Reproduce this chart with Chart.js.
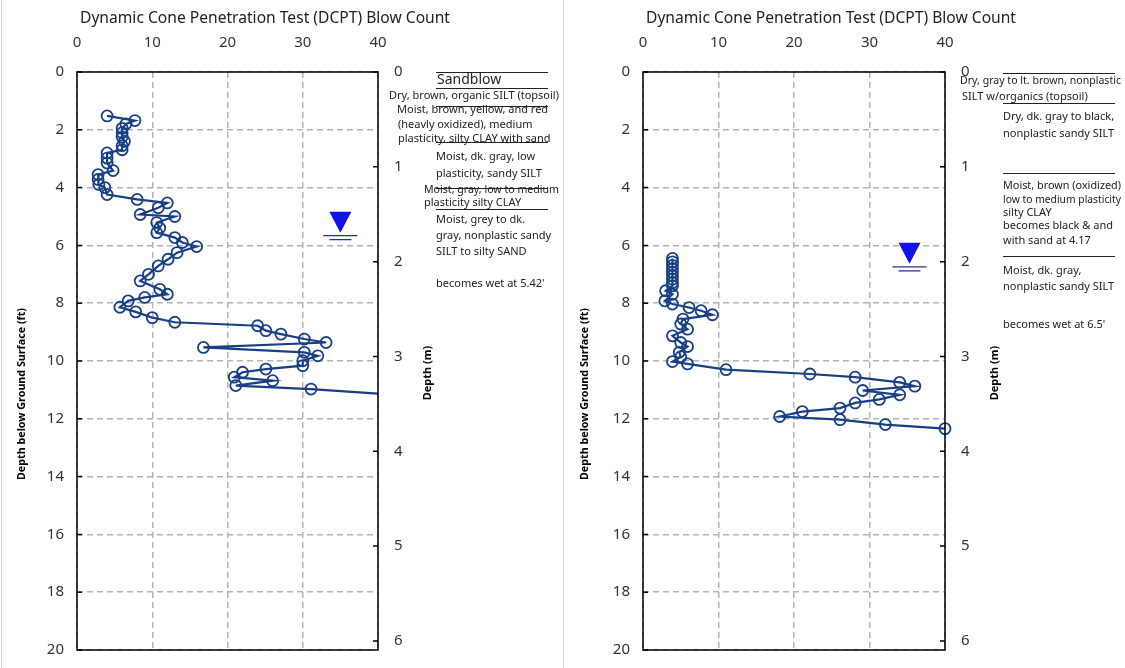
<!DOCTYPE html>
<html>
<head>
<meta charset="utf-8">
<script src="https://cdn.jsdelivr.net/npm/chart.js@4.4.1/dist/chart.umd.min.js"></script>
<style>
html, body { margin: 0; background: #fff; overflow: hidden; width: 1125px; height: 668px; }
canvas { position: absolute; top: 0; }
#c1 { left: 0; }
#c2 { left: 563px; }
.sep { position: absolute; top: 0; width: 1px; height: 668px; background: #d4d4d4; }
</style>
</head>
<body>
<div class="sep" style="left:1px"></div>
<canvas id="c1" width="563" height="675"></canvas>
<div class="sep" style="left:563px"></div>
<canvas id="c2" width="562" height="675"></canvas>
<script>
// depth below ground surface (ft) and DCPT blow counts
const leftDepth = [1.52, 1.68, 1.8, 1.95, 2.1, 2.25, 2.4, 2.55, 2.69, 2.8, 2.98, 3.15, 3.41, 3.55, 3.72,
    3.89, 4.0, 4.24, 4.41, 4.53, 4.7, 4.93, 5.0, 5.21, 5.4, 5.56, 5.73, 5.9, 6.04, 6.25,
    6.48, 6.71, 7.0, 7.23, 7.52, 7.69, 7.8, 7.92, 8.14, 8.3, 8.5, 8.66, 8.78, 8.95, 9.07,
    9.24, 9.36, 9.53, 9.7, 9.82, 9.99, 10.16, 10.28, 10.39, 10.56, 10.68, 10.85, 10.97, 11.2];
const leftBlows = [4, 7.7, 6.5, 6, 6, 6, 6.3, 6, 6, 4, 4, 4, 4.8, 2.8, 2.8,
    2.9, 3.7, 4, 8, 12, 10.8, 8.4, 13, 10.6, 11, 10.6, 13, 14, 15.9, 13.3,
    12.1, 10.8, 9.5, 8.4, 11, 12, 9, 6.8, 5.7, 7.8, 10, 13, 24, 25.1, 27.1,
    30.2, 33.1, 16.8, 30.2, 32, 30, 30, 25.1, 22, 20.9, 26, 21.1, 31.1, 44];

const rightDepth = [6.45, 6.57, 6.69, 6.81, 6.93, 7.05, 7.17, 7.29, 7.4, 7.57, 7.69, 7.92, 8.03,
    8.15, 8.26, 8.4, 8.55, 8.72, 8.9, 9.13, 9.36, 9.5, 9.7, 9.85, 10.02, 10.1, 10.3, 10.45,
    10.56, 10.74, 10.87, 11.02, 11.17, 11.33, 11.45, 11.63, 11.75, 11.92, 12.03, 12.2, 12.34];
const rightBlows = [3.9, 3.9, 3.9, 3.9, 3.9, 3.9, 3.9, 3.9, 3.9, 3.0, 3.9, 2.9, 3.9,
    6.1, 7.7, 9.2, 5.3, 5.0, 5.9, 3.9, 5.0, 5.9, 4.8, 5.0, 3.9, 5.9, 11, 22.1,
    28.1, 34, 36, 29.1, 34, 31.3, 28.1, 26.1, 21.1, 18.1, 26.1, 32.1, 40];

const blowMax = 40;
const depthMaxFt = 20;
const ftToM = 0.3048;
const meterTicks = [0, 1, 2, 3, 4, 5, 6];
const waterDepth = [5.42, 6.5];   // ft
const waterBlow = [35, 35.3];     // where the marker sits across

const chartTitle = 'Dynamic Cone Penetration Test (DCPT) Blow Count';
const leftAxisTitle = 'Depth below Ground Surface (ft)';
const rightAxisTitle = 'Depth (m)';

// soil log text, [text, depth ft]
const leftLog = [
    ['Sandblow', 0.28],
    ['Dry, brown, organic SILT (topsoil)', 0.83],
    ['Moist, brown, yellow, and red', 1.31],
    ['(heavly oxidized), medium', 1.83],
    ['plasticity, silty CLAY with sand', 2.32],
    ['Moist, dk. gray, low', 2.94],
    ['plasticity, sandy SILT', 3.53],
    ['Moist, gray, low to medium', 4.08],
    ['plasticity silty CLAY', 4.53],
    ['Moist, grey to dk.', 5.12],
    ['gray, nonplastic sandy', 5.67],
    ['SILT to silty SAND', 6.23],
    ["becomes wet at 5.42'", 7.34]
];
const leftLogX = [59, 11, 19, 20, 20, 58, 58, 46, 46, 58, 58, 58, 58];
const leftBreaks = [0, 0.55, 1.18, 2.42, 4.01, 4.74];

const rightLog = [
    ['Dry, gray to lt. brown, nonplastic', 0.31],
    ['SILT w/organics (topsoil)', 0.86],
    ['Dry, dk. gray to black,', 1.56],
    ['nonplastic sandy SILT', 2.15],
    ['Moist, brown (oxidized)', 3.94],
    ['low to medium plasticity', 4.43],
    ['silty CLAY', 4.88],
    ['becomes black & and', 5.33],
    ['with sand at 4.17', 5.85],
    ['Moist, dk. gray,', 6.89],
    ['nonplastic sandy SILT', 7.44],
    ["becomes wet at 6.5'", 8.75]
];
const rightLogX = [15, 17, 58, 58, 58, 58, 58, 58, 58, 58, 58, 58];
const rightBreaks = [0.03, 1.07, 3.49, 6.37];

const navy = '#183f86';
const fontFam = '"Noto Sans", "Open Sans", sans-serif';

const logPlugin = {
    id: 'logPlugin',
    afterDatasetsDraw(chart, args, o) {
        const {ctx, chartArea: a, scales} = chart;
        const y = scales.y, m = scales.m, x = scales.x;
        ctx.save();

        // frame and inward ticks
        ctx.strokeStyle = '#000';
        ctx.lineWidth = 1.5;
        ctx.strokeRect(a.left, a.top, a.right - a.left, a.bottom - a.top);
        ctx.beginPath();
        y.ticks.forEach(t => {
            const py = y.getPixelForValue(t.value);
            ctx.moveTo(a.left, py);
            ctx.lineTo(a.left + 5, py);
        });
        m.ticks.forEach(t => {
            const py = m.getPixelForValue(t.value);
            ctx.moveTo(a.right, py);
            ctx.lineTo(a.right - 5, py);
        });
        ctx.stroke();

        // water table marker
        const wx = x.getPixelForValue(o.waterBlow);
        const wy = y.getPixelForValue(o.water) + 4;
        ctx.fillStyle = '#1212e8';
        ctx.beginPath();
        ctx.moveTo(wx, wy);
        ctx.lineTo(wx - 11, wy - 21);
        ctx.lineTo(wx + 11, wy - 21);
        ctx.closePath();
        ctx.fill();
        ctx.strokeStyle = '#22308f';
        ctx.lineWidth = 1.2;
        ctx.beginPath();
        ctx.moveTo(wx - 17, wy + 3);
        ctx.lineTo(wx + 17, wy + 3);
        ctx.moveTo(wx - 11, wy + 7);
        ctx.lineTo(wx + 11, wy + 7);
        ctx.stroke();

        // title
        ctx.fillStyle = '#222';
        ctx.font = '16px ' + fontFam;
        ctx.textBaseline = 'middle';
        ctx.textAlign = 'left';
        ctx.fillText(chartTitle, a.left + 3, 18, 370);

        // axis titles
        ctx.fillStyle = '#000';
        ctx.font = 'bold 11px ' + fontFam;
        ctx.textAlign = 'center';
        ctx.save();
        ctx.translate(22, 394);
        ctx.rotate(-Math.PI / 2);
        ctx.fillText(leftAxisTitle, 0, 0, 172);
        ctx.restore();
        ctx.save();
        ctx.translate(a.right + 50, 373);
        ctx.rotate(-Math.PI / 2);
        ctx.fillText(rightAxisTitle, 0, 0);
        ctx.restore();

        // soil log
        ctx.fillStyle = '#222';
        ctx.textAlign = 'left';
        o.log.forEach((row, i) => {
            const lx = a.right + o.logX[i];
            ctx.font = (i === 0 && o.heading ? '14px ' : '11px ') + fontFam;
            ctx.fillText(row[0], lx, y.getPixelForValue(row[1]), chart.width - lx - 4);
        });
        ctx.strokeStyle = '#222';
        ctx.lineWidth = 1;
        ctx.beginPath();
        o.breaks.forEach(d => {
            const py = Math.round(y.getPixelForValue(d)) + 0.5;
            ctx.moveTo(a.right + 58, py);
            ctx.lineTo(a.right + 170, py);
        });
        ctx.stroke();
        ctx.restore();
    }
};

function makeChart(id, blows, depth, opts) {
    const points = depth.map((d, i) => ({x: blows[i], y: d}));
    const tickFont = {family: fontFam, size: 15};
    const mMax = depthMaxFt * ftToM;
    return new Chart(document.getElementById(id), {
        type: 'scatter',
        data: {
            datasets: [{
                data: points,
                showLine: true,
                borderColor: navy,
                borderWidth: 2.2,
                pointRadius: 5.5,
                pointBorderWidth: 1.8,
                pointBackgroundColor: 'rgba(0,0,0,0)',
                pointBorderColor: navy,
                clip: opts.clip
            }]
        },
        options: {
            responsive: false,
            animation: false,
            devicePixelRatio: 1,
            layout: {autoPadding: false, padding: {top: 0, bottom: 18, left: 0, right: 0}},
            plugins: {
                legend: {display: false},
                tooltip: {enabled: false},
                logPlugin: opts
            },
            scales: {
                x: {
                    type: 'linear',
                    position: 'top',
                    min: 0,
                    max: blowMax,
                    ticks: {stepSize: 10, color: '#333', font: tickFont, padding: 20},
                    grid: {color: '#b4b4b4', lineWidth: 1.5, drawTicks: false},
                    border: {display: false, dash: [6, 4]},
                    afterFit: s => { s.height = 72; }
                },
                y: {
                    type: 'linear',
                    position: 'left',
                    reverse: true,
                    min: 0,
                    max: depthMaxFt,
                    ticks: {stepSize: 2, color: '#333', font: tickFont, padding: 13},
                    grid: {color: '#b4b4b4', lineWidth: 1.5, drawTicks: false},
                    border: {display: false, dash: [6, 4]},
                    afterFit: s => { s.width = opts.leftW; }
                },
                m: {
                    type: 'linear',
                    position: 'right',
                    reverse: true,
                    bounds: 'data',
                    min: 0,
                    max: mMax,
                    ticks: {color: '#333', font: tickFont, padding: 16},
                    grid: {display: false, drawTicks: false},
                    border: {display: false},
                    afterBuildTicks: s => {
                        s.ticks = meterTicks.map(v => ({value: v}));
                        s.min = 0;
                        s.max = mMax;
                    },
                    afterFit: s => { s.width = opts.rightW; }
                }
            }
        },
        plugins: [logPlugin]
    });
}

makeChart('c1', leftBlows, leftDepth, {
    leftW: 77, rightW: 185, clip: undefined,
    water: waterDepth[0], waterBlow: waterBlow[0],
    log: leftLog, logX: leftLogX, breaks: leftBreaks, heading: true
});
makeChart('c2', rightBlows, rightDepth, {
    leftW: 80, rightW: 180, clip: 8,
    water: waterDepth[1], waterBlow: waterBlow[1],
    log: rightLog, logX: rightLogX, breaks: rightBreaks, heading: false
});
</script>
</body>
</html>
